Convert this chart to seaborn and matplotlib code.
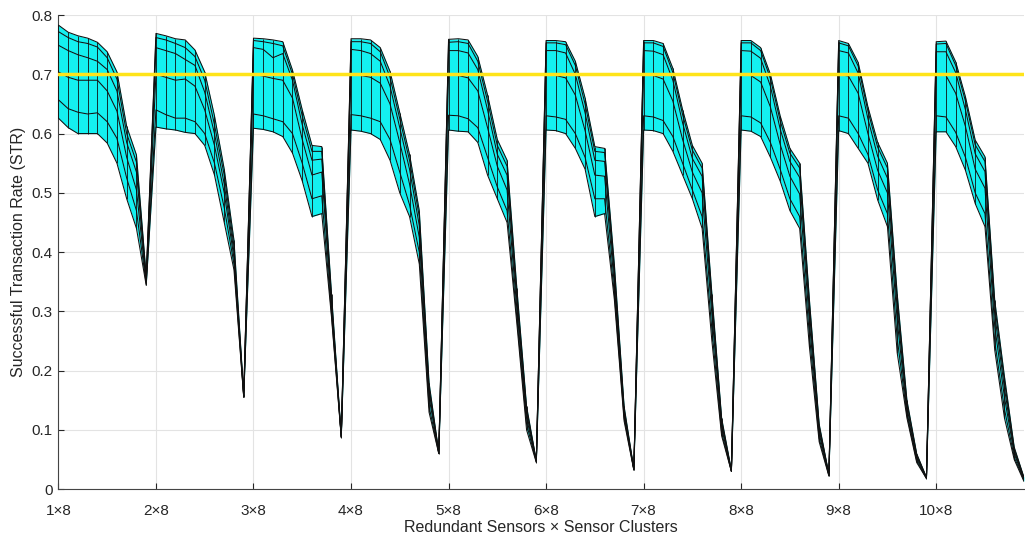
import numpy as np
import pandas as pd
import matplotlib
matplotlib.use("Agg")
import matplotlib.pyplot as plt
import seaborn as sns

# 10 groups (1x8 .. 10x8), 10 samples each; six mesh rows of STR values
group_labels = ['1×8', '2×8', '3×8', '4×8', '5×8', '6×8', '7×8', '8×8', '9×8', '10×8']
points_per_group = 10

row_a = [0.783, 0.771, 0.765, 0.761, 0.754, 0.738, 0.704, 0.612, 0.564, 0.360,
         0.769, 0.765, 0.760, 0.758, 0.741, 0.704, 0.630, 0.540, 0.420, 0.160,
         0.761, 0.760, 0.758, 0.755, 0.707, 0.640, 0.580, 0.578, 0.330, 0.090,
         0.760, 0.760, 0.758, 0.745, 0.705, 0.635, 0.565, 0.470, 0.180, 0.062,
         0.759, 0.760, 0.758, 0.730, 0.665, 0.590, 0.555, 0.340, 0.140, 0.048,
         0.757, 0.757, 0.755, 0.722, 0.660, 0.578, 0.575, 0.380, 0.140, 0.034,
         0.757, 0.757, 0.752, 0.710, 0.640, 0.580, 0.550, 0.330, 0.120, 0.032,
         0.757, 0.757, 0.745, 0.700, 0.630, 0.575, 0.550, 0.320, 0.110, 0.025,
         0.757, 0.752, 0.720, 0.645, 0.585, 0.550, 0.330, 0.150, 0.060, 0.020,
         0.755, 0.756, 0.721, 0.662, 0.589, 0.561, 0.319, 0.190, 0.071, 0.020]
row_b = [0.772, 0.762, 0.755, 0.752, 0.746, 0.728, 0.692, 0.600, 0.552, 0.356,
         0.762, 0.758, 0.752, 0.745, 0.730, 0.690, 0.615, 0.530, 0.410, 0.158,
         0.757, 0.755, 0.752, 0.748, 0.700, 0.630, 0.570, 0.570, 0.322, 0.089,
         0.755, 0.755, 0.752, 0.738, 0.695, 0.625, 0.555, 0.460, 0.172, 0.062,
         0.754, 0.755, 0.752, 0.722, 0.655, 0.580, 0.545, 0.330, 0.135, 0.048,
         0.753, 0.753, 0.750, 0.715, 0.650, 0.570, 0.568, 0.370, 0.135, 0.034,
         0.753, 0.753, 0.747, 0.703, 0.632, 0.572, 0.542, 0.322, 0.116, 0.031,
         0.753, 0.753, 0.740, 0.693, 0.622, 0.567, 0.542, 0.312, 0.106, 0.025,
         0.753, 0.748, 0.714, 0.638, 0.577, 0.542, 0.320, 0.145, 0.058, 0.020,
         0.751, 0.752, 0.715, 0.655, 0.581, 0.553, 0.310, 0.182, 0.068, 0.019]
row_c = [0.749, 0.740, 0.733, 0.728, 0.722, 0.708, 0.672, 0.585, 0.535, 0.352,
         0.745, 0.740, 0.735, 0.725, 0.715, 0.670, 0.600, 0.515, 0.400, 0.157,
         0.745, 0.742, 0.728, 0.735, 0.690, 0.615, 0.555, 0.557, 0.315, 0.088,
         0.742, 0.740, 0.735, 0.722, 0.680, 0.610, 0.540, 0.445, 0.165, 0.061,
         0.740, 0.740, 0.736, 0.708, 0.640, 0.565, 0.530, 0.320, 0.128, 0.047,
         0.740, 0.740, 0.736, 0.700, 0.635, 0.555, 0.553, 0.360, 0.130, 0.033,
         0.740, 0.739, 0.733, 0.690, 0.618, 0.558, 0.528, 0.312, 0.110, 0.031,
         0.740, 0.739, 0.727, 0.680, 0.608, 0.553, 0.526, 0.300, 0.100, 0.024,
         0.740, 0.736, 0.702, 0.625, 0.562, 0.525, 0.305, 0.138, 0.055, 0.019,
         0.738, 0.738, 0.703, 0.640, 0.566, 0.536, 0.295, 0.170, 0.064, 0.018]
row_d = [0.704, 0.695, 0.690, 0.690, 0.690, 0.672, 0.638, 0.560, 0.505, 0.349,
         0.700, 0.695, 0.690, 0.692, 0.680, 0.640, 0.580, 0.500, 0.390, 0.156,
         0.700, 0.697, 0.693, 0.690, 0.660, 0.590, 0.530, 0.535, 0.305, 0.088,
         0.700, 0.698, 0.695, 0.685, 0.650, 0.585, 0.515, 0.425, 0.155, 0.061,
         0.700, 0.698, 0.694, 0.672, 0.610, 0.545, 0.505, 0.305, 0.120, 0.047,
         0.700, 0.698, 0.694, 0.665, 0.605, 0.530, 0.528, 0.345, 0.125, 0.033,
         0.700, 0.698, 0.692, 0.655, 0.590, 0.535, 0.500, 0.295, 0.104, 0.030,
         0.700, 0.698, 0.687, 0.645, 0.582, 0.528, 0.498, 0.282, 0.094, 0.024,
         0.700, 0.697, 0.668, 0.600, 0.538, 0.500, 0.285, 0.130, 0.052, 0.019,
         0.700, 0.698, 0.668, 0.612, 0.540, 0.508, 0.275, 0.155, 0.060, 0.016]
row_e = [0.657, 0.642, 0.636, 0.633, 0.635, 0.620, 0.592, 0.525, 0.470, 0.346,
         0.640, 0.632, 0.626, 0.626, 0.620, 0.600, 0.550, 0.475, 0.380, 0.155,
         0.633, 0.630, 0.625, 0.620, 0.600, 0.550, 0.490, 0.495, 0.295, 0.088,
         0.632, 0.630, 0.626, 0.620, 0.590, 0.535, 0.480, 0.400, 0.140, 0.060,
         0.631, 0.630, 0.625, 0.610, 0.560, 0.510, 0.470, 0.290, 0.110, 0.046,
         0.630, 0.628, 0.624, 0.600, 0.560, 0.490, 0.490, 0.330, 0.120, 0.033,
         0.630, 0.628, 0.622, 0.595, 0.550, 0.505, 0.460, 0.270, 0.095, 0.030,
         0.630, 0.628, 0.618, 0.585, 0.540, 0.490, 0.460, 0.260, 0.086, 0.023,
         0.630, 0.626, 0.600, 0.565, 0.505, 0.465, 0.255, 0.125, 0.048, 0.018,
         0.630, 0.628, 0.602, 0.560, 0.500, 0.465, 0.250, 0.135, 0.054, 0.015]
row_f = [0.626, 0.610, 0.600, 0.600, 0.600, 0.584, 0.550, 0.490, 0.440, 0.344,
         0.611, 0.608, 0.606, 0.602, 0.600, 0.580, 0.530, 0.450, 0.370, 0.155,
         0.609, 0.607, 0.603, 0.595, 0.567, 0.520, 0.460, 0.465, 0.290, 0.087,
         0.606, 0.604, 0.600, 0.590, 0.555, 0.500, 0.460, 0.380, 0.130, 0.060,
         0.606, 0.604, 0.603, 0.585, 0.530, 0.490, 0.450, 0.280, 0.100, 0.045,
         0.606, 0.605, 0.600, 0.575, 0.540, 0.460, 0.465, 0.320, 0.115, 0.032,
         0.606, 0.605, 0.600, 0.570, 0.530, 0.490, 0.440, 0.250, 0.090, 0.030,
         0.606, 0.604, 0.595, 0.560, 0.520, 0.470, 0.440, 0.240, 0.080, 0.022,
         0.605, 0.600, 0.575, 0.550, 0.488, 0.443, 0.230, 0.120, 0.045, 0.018,
         0.603, 0.603, 0.578, 0.538, 0.482, 0.443, 0.235, 0.120, 0.050, 0.013]
threshold = 0.7

rows = [row_a, row_b, row_c, row_d, row_e, row_f]
x = np.arange(1, len(row_a) + 1)

sns.set_style("whitegrid")
plt.rcParams['font.family'] = ['Liberation Sans', 'DejaVu Sans']

fig, ax = plt.subplots(figsize=(10.25, 5.37), dpi=100)
fig.subplots_adjust(left=0.057, right=0.999, top=0.972, bottom=0.089)

cyan = '#14F0F0'
for j in range(len(rows) - 1):
    ax.fill_between(x, rows[j], rows[j + 1], color=cyan, lw=0, zorder=2)

# mesh column edges
arr = np.array(rows)
ax.vlines(x, arr.min(axis=0), arr.max(axis=0), color='#101010', lw=0.6, zorder=3)

# mesh row edges
df = pd.DataFrame({'x': np.tile(x, len(rows)),
                   'str': np.concatenate(rows),
                   'row': np.repeat(np.arange(len(rows)), len(x))})
sns.lineplot(data=df, x='x', y='str', units='row', estimator=None, sort=False,
             color='#101010', lw=0.75, legend=False, ax=ax, zorder=4)

ax.axhline(threshold, color='#FFE41A', lw=2.5, zorder=5)

ax.set_xlim(1, len(row_a))
ax.set_ylim(0, 0.8)
ax.set_xticks(np.arange(1, len(row_a) + 1, points_per_group))
ax.set_xticklabels(group_labels)
ax.set_yticks(np.arange(0, 0.81, 0.1))
ax.set_yticklabels(['0', '0.1', '0.2', '0.3', '0.4', '0.5', '0.6', '0.7', '0.8'])
ax.set_xlabel('Redundant Sensors × Sensor Clusters', fontsize=11.5, color='#262626', labelpad=1)
ax.set_ylabel('Successful Transaction Rate (STR)', fontsize=11.5, color='#262626', labelpad=4)
ax.tick_params(axis='both', labelsize=11, colors='#262626', direction='in', length=4,
               width=0.8, bottom=True, left=True)
ax.tick_params(axis='x', pad=11)
ax.tick_params(axis='y', pad=4)
ax.grid(True, color='#e3e3e3', lw=0.8)
ax.set_axisbelow(True)
for side in ['top', 'right']:
    ax.spines[side].set_visible(False)
for side in ['left', 'bottom']:
    ax.spines[side].set_color('#444444')
    ax.spines[side].set_linewidth(0.8)

fig.savefig('out.png', dpi=100)
